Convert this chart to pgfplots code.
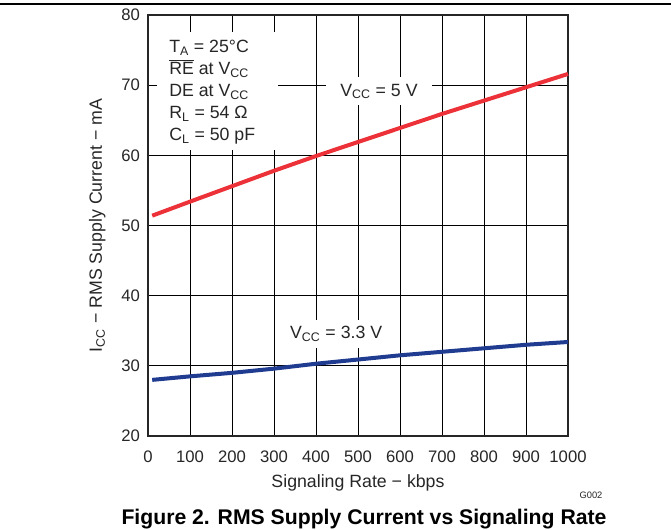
\documentclass[border=0pt]{standalone}
\usepackage{fontspec}
\setmainfont{Liberation Sans}
\usepackage{pgfplots}
\pgfplotsset{compat=1.18}
\definecolor{vred}{RGB}{236,50,56}
\definecolor{vblue}{RGB}{32,60,145}
\newcommand{\lbl}{\fontsize{12.5}{15}\selectfont}
\newcommand{\lblbig}{\fontsize{13.3}{16.5}\selectfont}
\begin{document}
\begin{tikzpicture}
\path[use as bounding box] (0pt,0pt) rectangle (503.25pt,396.75pt);
\draw[line width=1.1pt] (0pt,393.9pt) -- (503.25pt,393.9pt);
\begin{axis}[
  at={(111pt,69.75pt)}, anchor=south west,
  scale only axis, width=315pt, height=315.75pt,
  xmin=0, xmax=1000, ymin=20, ymax=80,
  xtick={0,100,...,1000}, ytick={20,30,...,80},
  grid=major, major grid style={black, line width=0.6pt},
  axis line style={line width=1.6pt, black!85},
  tick style={draw=none},
  /pgf/number format/assume math mode=true,
  /pgf/number format/1000 sep={},
  tick label style={font=\lbl, text=black!85},
  xticklabel style={yshift=-7.5pt},
  yticklabel style={xshift=-2.5pt},
  xlabel={Signaling Rate − kbps},
  ylabel={I\textsubscript{CC} − RMS Supply Current − mA},
  label style={font=\lblbig, text=black!85},
  xlabel style={at={(rel axis cs:0.5,0)}, anchor=center, yshift=-35pt},
  ylabel style={at={(rel axis cs:0,0.5)}, anchor=center, yshift=38pt},
  clip=false,
]
\fill[white] (axis cs:21,77.6) rectangle (axis cs:310,60.7);
\node[anchor=north west, align=left, font=\lblbig, inner sep=0pt, text=black!85]
  at (axis cs:50,76.5) {%
  T\textsubscript{A} = 25°C\\
  $\overline{\mbox{RE}}$ at V\textsubscript{CC}\\
  DE at V\textsubscript{CC}\\
  R\textsubscript{L} = 54 Ω\\
  C\textsubscript{L} = 50 pF};
\node[fill=white, font=\lblbig, inner xsep=11pt, minimum height=21pt, text=black!85]
  at (axis cs:550,69.1) {V\textsubscript{CC} = 5 V};
\node[fill=white, font=\lblbig, inner xsep=4pt, minimum height=21pt, text=black!85]
  at (axis cs:448,34.6) {V\textsubscript{CC} = 3.3 V};
\addplot[vred, line width=3pt, no markers] coordinates {
  (10,51.4) (100,53.4) (200,55.6) (300,57.8) (400,59.9) (500,61.9)
  (600,63.9) (700,65.9) (800,67.8) (900,69.7) (1000,71.6)};
\addplot[vblue, line width=3pt, no markers] coordinates {
  (10,28.0) (100,28.5) (200,29.0) (300,29.6) (400,30.3) (500,30.9)
  (600,31.5) (700,32.0) (800,32.5) (900,33.0) (1000,33.4)};
\end{axis}
\node[font=\fontsize{7}{8}\selectfont, text=black!85] at (443.25pt,25.5pt) {G002};
\node[font=\fontsize{15.9}{18}\selectfont\bfseries, anchor=base, inner sep=0pt] at (273pt,3.4pt)
  {Figure 2. RMS Supply Current vs Signaling Rate};
\end{tikzpicture}
\end{document}
